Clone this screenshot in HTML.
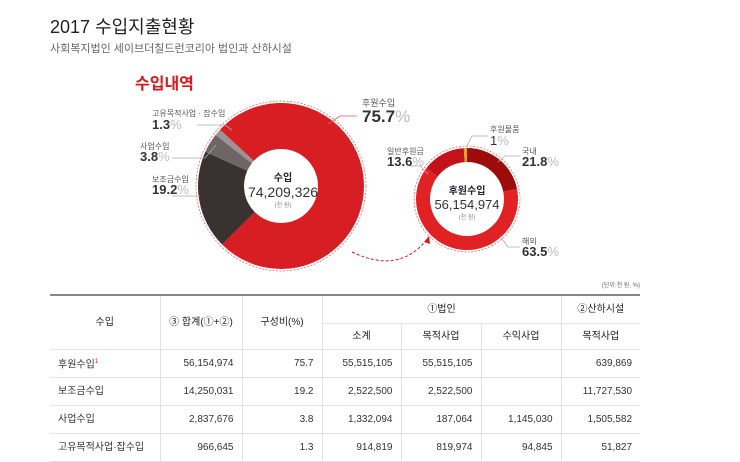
<!DOCTYPE html>
<html><head><meta charset="utf-8">
<style>
body{margin:0;width:740px;height:446px;background:#fff;overflow:hidden;font-family:"Liberation Sans","Noto Sans CJK KR",sans-serif;position:relative}
.t{position:absolute;white-space:nowrap}
table{position:absolute;left:50px;top:294px;border-collapse:collapse;font-size:10px;color:#333;font-family:"Liberation Sans","Noto Sans CJK KR",sans-serif;table-layout:fixed}
td,th{border:1px solid #e2e2e2;border-left:none;border-right:1px solid #e2e2e2;padding:0 8px;font-weight:normal;line-height:12px}
th{background:#fff;color:#222}
tr.h1 th{height:27px}
tr.h2 th{height:25px}
td{height:27px;text-align:right}
td:first-child{text-align:left}
td:last-child,th:last-child{border-right:none}
thead tr:first-child th{border-top:2px solid #888}
</style></head><body>
<div class="t" style="left:50px;top:13px;font-size:18px;color:#222">2017 수입지출현황</div>
<div class="t" style="left:50px;top:40px;font-size:11px;color:#666">사회복지법인 세이브더칠드런코리아 법인과 산하시설</div>
<div class="t" style="left:135px;top:70px;font-size:16px;color:#d7191c;font-weight:bold">수입내역</div>

<svg id="chart" width="740" height="446" style="position:absolute;left:0;top:0">
<path d="M352 252 Q400 275 428 238" fill="none" stroke="#d7191c" stroke-width="1" stroke-dasharray="3,2"/>
<path d="M424 242 L429 236 L430 244 Z" fill="#d7191c"/>
</svg>

<div class="t" style="left:362px;top:96px;font-size:9px;color:#555">후원수입</div>
<div class="t" style="left:362px;top:107px;font-size:17px;font-weight:bold;color:#333">75.7<span style="color:#bbb;font-weight:normal">%</span></div>
<div class="t" style="left:152px;top:108px;font-size:8px;color:#555">고유목적사업 · 잡수입</div>
<div class="t" style="left:152px;top:117px;font-size:13px;font-weight:bold;color:#333">1.3<span style="color:#bbb;font-weight:normal">%</span></div>
<div class="t" style="left:140px;top:141px;font-size:8px;color:#555">사업수입</div>
<div class="t" style="left:140px;top:149px;font-size:13px;font-weight:bold;color:#333">3.8<span style="color:#bbb;font-weight:normal">%</span></div>
<div class="t" style="left:152px;top:174px;font-size:8px;color:#555">보조금수입</div>
<div class="t" style="left:152px;top:182px;font-size:13px;font-weight:bold;color:#333">19.2<span style="color:#bbb;font-weight:normal">%</span></div>
<div class="t" style="left:233px;top:169px;width:100px;text-align:center;color:#333"><div style="font-size:10px;font-weight:bold;color:#223">수입</div><div style="font-size:14px">74,209,326</div><div style="font-size:6px;color:#888">(천 원)</div></div>

<div class="t" style="left:490px;top:124px;font-size:8px;color:#555">후원물품</div>
<div class="t" style="left:490px;top:133px;font-size:13px;color:#333">1<span style="color:#bbb">%</span></div>
<div class="t" style="left:522px;top:146px;font-size:8px;color:#555">국내</div>
<div class="t" style="left:522px;top:154px;font-size:13px;font-weight:bold;color:#333">21.8<span style="color:#bbb;font-weight:normal">%</span></div>
<div class="t" style="left:387px;top:146px;font-size:8px;color:#555">일반후원금</div>
<div class="t" style="left:387px;top:154px;font-size:13px;font-weight:bold;color:#333">13.6<span style="color:#bbb;font-weight:normal">%</span></div>
<div class="t" style="left:522px;top:236px;font-size:8px;color:#555">해외</div>
<div class="t" style="left:522px;top:244px;font-size:13px;font-weight:bold;color:#333">63.5<span style="color:#bbb;font-weight:normal">%</span></div>
<div class="t" style="left:417px;top:182px;width:100px;text-align:center;color:#333"><div style="font-size:10px;font-weight:bold;color:#223">후원수입</div><div style="font-size:13px">56,154,974</div><div style="font-size:6px;color:#888">(천 원)</div></div>

<div class="t" style="left:590px;top:280px;width:50px;text-align:right;font-size:6px;color:#666">(단위:천 원, %)</div>

<table style="width:590px">
<colgroup><col style="width:110px"><col style="width:82px"><col style="width:80px"><col style="width:79px"><col style="width:80px"><col style="width:80px"><col style="width:79px"></colgroup>
<thead>
<tr class="h1"><th rowspan="2">수입</th><th rowspan="2">③ 합계(①+②)</th><th rowspan="2">구성비(%)</th><th colspan="3">①법인</th><th>②산하시설</th></tr>
<tr class="h2"><th>소계</th><th>목적사업</th><th>수익사업</th><th>목적사업</th></tr>
</thead>
<tbody>
<tr><td>후원수입<sup style="color:#d7191c;font-size:6px">1</sup></td><td>56,154,974</td><td>75.7</td><td>55,515,105</td><td>55,515,105</td><td></td><td>639,869</td></tr>
<tr><td>보조금수입</td><td>14,250,031</td><td>19.2</td><td>2,522,500</td><td>2,522,500</td><td></td><td>11,727,530</td></tr>
<tr><td>사업수입</td><td>2,837,676</td><td>3.8</td><td>1,332,094</td><td>187,064</td><td>1,145,030</td><td>1,505,582</td></tr>
<tr><td>고유목적사업·잡수입</td><td>966,645</td><td>1.3</td><td>914,819</td><td>819,974</td><td>94,845</td><td>51,827</td></tr>
</tbody></table>

<script>
const bigLabels=["후원수입","보조금수입","사업수입","고유목적사업·잡수입"];
const bigValues=[75.7,19.2,3.8,1.3];
const bigColors=["#d71f23","#3a3131","#6e6665","#9a9494"];
const smallLabels=["국내","해외","일반후원금","후원물품"];
const smallValues=[21.8,63.5,13.6,1.0];
const smallColors=["#9e0b0b","#e02225","#c4121a","#e8a21c"];
const svg=document.getElementById('chart');
const NS="http://www.w3.org/2000/svg";
function arc(cx,cy,r0,r1,a0,a1){
  const p=(r,a)=>[cx+r*Math.sin(a*Math.PI/180),cy-r*Math.cos(a*Math.PI/180)];
  const lg=(a1-a0)>180?1:0;
  const [x0,y0]=p(r1,a0),[x1,y1]=p(r1,a1),[x2,y2]=p(r0,a1),[x3,y3]=p(r0,a0);
  return `M${x0} ${y0}A${r1} ${r1} 0 ${lg} 1 ${x1} ${y1}L${x2} ${y2}A${r0} ${r0} 0 ${lg} 0 ${x3} ${y3}Z`;
}
function donut(vals,cols,cx,cy,r0,r1,start,name){
  const tot=vals.reduce((a,b)=>a+b,0);let a=start;
  vals.forEach((v,i)=>{const s=v/tot*360;const el=document.createElementNS(NS,'path');
    el.setAttribute('d',arc(cx,cy,r0,r1,a,a+s));el.setAttribute('fill',cols[i]);
    
    
    svg.appendChild(el);a+=s;});
  const c=document.createElementNS(NS,'circle');c.setAttribute('cx',cx);c.setAttribute('cy',cy);c.setAttribute('r',r1+2);
  c.setAttribute('fill','none');c.setAttribute('stroke','#e55');c.setAttribute('stroke-width','0.7');c.setAttribute('stroke-dasharray','2,1.5');
  
  
  svg.appendChild(c);
}
donut(bigValues,bigColors,281,186,37,83,312.7,'big-donut');
donut(smallValues,smallColors,467,199,37,51,0,'small-donut');
const lines=[[357,116,340,116,328,124],[197,125,225,125,232,130],[172,158,205,158,216,145],[172,196,200,196,200,196],[488,136,472,136,466,148],[520,156,505,156,498,162],[410,166,420,166,428,174],[520,247,508,247,500,236]];
lines.forEach((l,i)=>{const e=document.createElementNS(NS,'polyline');e.setAttribute('points',l.join(' '));e.setAttribute('fill','none');
 e.setAttribute('stroke',i==0?'#e55':'#aaa');e.setAttribute('stroke-width','0.8');
 
 
 svg.appendChild(e);});
</script>
</body></html>
